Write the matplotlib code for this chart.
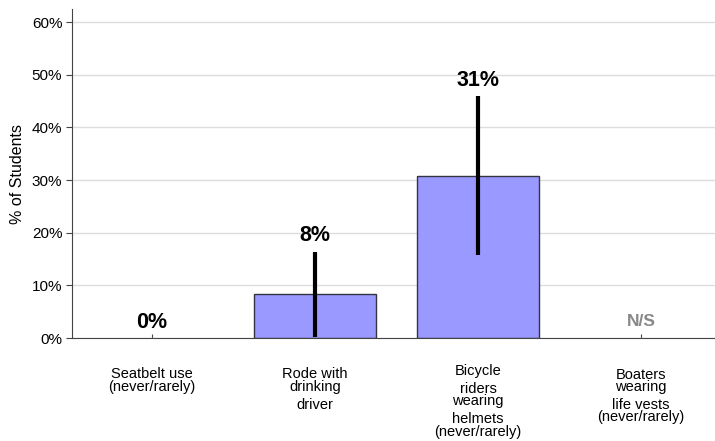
import numpy as np
import matplotlib.pyplot as plt
from matplotlib.transforms import blended_transform_factory

plt.rcParams['font.family'] = ['Liberation Sans', 'DejaVu Sans']

categories = [['Seatbelt use', '(never/rarely)'],
              ['Rode with', 'drinking', 'driver'],
              ['Bicycle', 'riders', 'wearing', 'helmets', '(never/rarely)'],
              ['Boaters', 'wearing', 'life vests', '(never/rarely)']]
values = [0, 8.4, 30.7, np.nan]
err_low = [np.nan, 0.2, 15.8, np.nan]
err_high = [np.nan, 16.4, 45.9, np.nan]
labels = ['0%', '8%', '31%', 'N/S']

W, H = 715, 441
fig = plt.figure(figsize=(W / 100, H / 100), dpi=100)
ax = fig.add_axes([72 / W, 1 - 338 / H, 644 / W, 329 / H])

x = np.arange(len(categories))
for i in range(len(x)):
    if values[i] > 0:
        ax.bar(x[i], values[i], width=0.75, color='#9999ff',
               edgecolor='#333344', linewidth=1, zorder=2)
    if not np.isnan(err_low[i]):
        ax.plot([x[i], x[i]], [err_low[i], err_high[i]], color='black',
                linewidth=3, solid_capstyle='butt', zorder=3)

label_y = [1.9, 18.4, 47.8, 2.3]
for i in range(len(x)):
    if labels[i] == 'N/S':
        ax.text(x[i], label_y[i], labels[i], ha='center', va='baseline',
                fontsize=12.5, fontweight='bold', color='#888888')
    else:
        ax.text(x[i], label_y[i], labels[i], ha='center', va='baseline',
                fontsize=15.5, fontweight='bold', color='black')

# category labels, line by line (pixel rows)
line_rows = [[374, 387], [374, 387, 405], [371, 389, 401, 419, 432],
             [375, 387, 405, 417]]
tr = blended_transform_factory(ax.transData, fig.transFigure)
for i in range(len(x)):
    for txt, py in zip(categories[i], line_rows[i]):
        ax.text(x[i], 1 - py / H, txt, transform=tr, ha='center', va='center',
                fontsize=10.5, clip_on=False)

ax.set_xlim(-0.49, 3.46)
ax.set_ylim(0, 62.5)
ax.set_yticks(np.arange(0, 61, 10))
ax.set_yticklabels([f'{v}%' for v in range(0, 61, 10)], fontsize=11)
ax.yaxis.grid(True, color='#dddddd', linewidth=1, zorder=0)
ax.set_axisbelow(True)
ax.set_xticks(x)
ax.set_xticklabels([])
ax.tick_params(axis='x', direction='in', length=3, color='#444444')
ax.tick_params(axis='y', length=4, color='#444444', pad=3)
ax.set_ylabel('% of Students', fontsize=11.5, labelpad=5)

for s in ['top', 'right']:
    ax.spines[s].set_visible(False)
for s in ['left', 'bottom']:
    ax.spines[s].set_color('#444444')

fig.savefig('out.png', dpi=100)
